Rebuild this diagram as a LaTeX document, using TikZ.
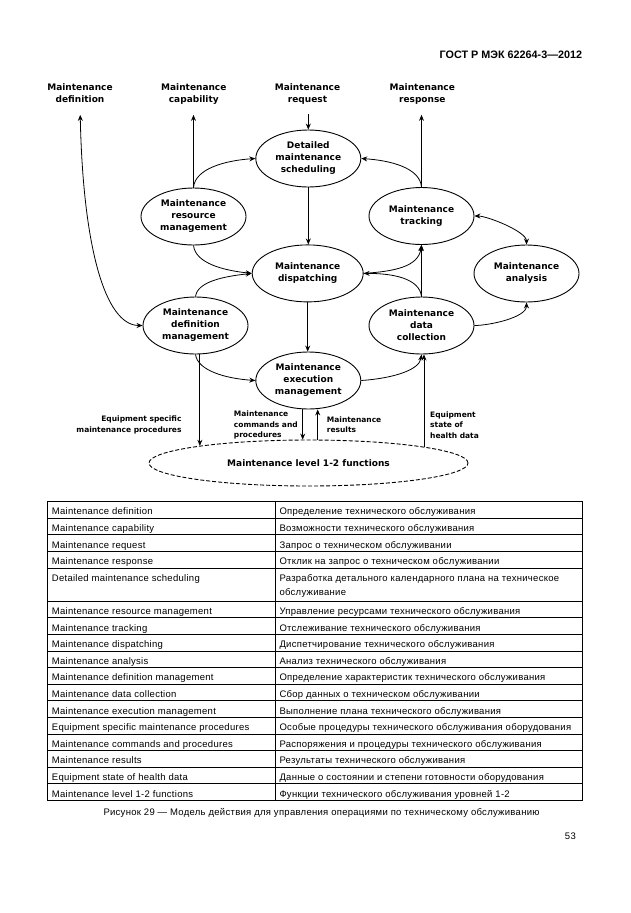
\documentclass[tikz,border=0pt]{standalone}
\usepackage{fontspec}
\usepackage{tikz}
\usetikzlibrary{shapes.geometric}
\usetikzlibrary{arrows.meta}
\newfontfamily\diagfont{DejaVu Sans}
\newfontfamily\gostfont[LetterSpace=3]{Liberation Sans}
\newfontfamily\headfont{Liberation Sans}
\tikzset{activity node/.style={ellipse, draw, line width=0.9pt,
    inner sep=0pt, minimum width=105pt, minimum height=57pt, align=center,
    font=\diagfont\bfseries\fontsize{9}{12}\selectfont}}
\tikzset{level node/.style={activity node, dash pattern=on 4pt off 2pt,
    minimum width=319pt, minimum height=46pt}}
\tikzset{end label/.style={inner sep=0pt, align=center, text depth=2.5pt,
    font=\diagfont\bfseries\fontsize{9}{12}\selectfont}}
\tikzset{data label/.style={inner sep=0pt,
    font=\diagfont\bfseries\fontsize{7.5}{10.7}\selectfont}}
\tikzset{flow edge/.style={draw, line width=0.8pt, ->}}
\tikzset{table rule/.style={draw, line width=0.7pt}}
\tikzset{cell text/.style={inner sep=0pt, anchor=base west, align=left,
    font=\gostfont\fontsize{9.5}{14.7}\selectfont}}

\begin{document}
\begin{tikzpicture}
  [x=1pt, y=-1pt, >={Stealth[length=6pt,width=5pt,inset=2pt]}]
  \fill [white] (0,0) rectangle (630,913);
  \useasboundingbox (0,0) rectangle (630,913);

  \node [anchor=east, inner sep=0pt, font=\headfont\bfseries\fontsize{10.8}{12}\selectfont]
        (header) at (582.3,55) {ГОСТ Р МЭК 62264-3—2012};

  % inputs and outputs of the model
  \node [end label] (ldef)  at ( 80.0, 94.0) {Maintenance\\definition};
  \node [end label] (lcap)  at (193.8, 94.0) {Maintenance\\capability};
  \node [end label] (lreq)  at (307.5, 94.0) {Maintenance\\request};
  \node [end label] (lresp) at (422.3, 94.0) {Maintenance\\response};

  % activities
  \node [activity node] (sched)    at (308.3,158.5) {Detailed\\maintenance\\scheduling};
  \node [activity node] (resource) at (193.5,216.5) {Maintenance\\resource\\management};
  \node [activity node] (tracking) at (421.5,216.0) {Maintenance\\tracking};
  \node [activity node, minimum width=111pt]
                        (dispatch) at (307.7,273.4) {Maintenance\\dispatching};
  \node [activity node] (analysis) at (526.5,273.5) {Maintenance\\analysis};
  \node [activity node] (defmgmt)  at (195.5,325.5) {Maintenance\\definition\\management};
  \node [activity node] (datacoll) at (421.5,325.5) {Maintenance\\data\\collection};
  \node [activity node] (exec)     at (308.3,380.5) {Maintenance\\execution\\management};
  \node [level node]    (level)    at (308.5,463.0) {Maintenance level 1-2 functions};

  \node [data label, anchor=east, align=right] (lesp)    at (181.7,424.7) {Equipment specific\\maintenance procedures};
  \node [data label, anchor=west, align=left]  (lcmd)    at (233.7,425.0) {Maintenance\\commands and\\procedures};
  \node [data label, anchor=west, align=left]  (lres)    at (326.7,424.7) {Maintenance\\results};
  \node [data label, anchor=west, align=left]  (lhealth) at (430.0,425.0) {Equipment\\state of\\health data};

  \coordinate (cmdtop) at ([xshift=-5.6pt]exec.south);
  \coordinate (resbot) at ([xshift=9.4pt]exec.south);

  % flows
  \draw [flow edge, <->, shorten <=10pt] (ldef.south) .. controls +(3,140) and +(-38,0) .. (defmgmt.west);
  \draw [flow edge, shorten >=10pt] (resource.north) -- (resource.north |- lcap.south);
  \draw [flow edge, shorten <=9pt]  (sched.north |- lreq.south) -- (sched.north);
  \draw [flow edge, shorten >=10pt] (tracking.north) -- (tracking.north |- lresp.south);

  \draw [flow edge] (resource.north) .. controls +(1.5,-19) and +(-30,2) .. (sched.west);
  \draw [flow edge] (tracking.north) .. controls +(-1.5,-19) and +(30,2) .. (sched.east);
  \draw [flow edge] (sched.south) -- (sched.south |- dispatch.north);
  \draw [flow edge] (resource.south) .. controls +(2,18) and +(-28,-3) .. (dispatch.west);
  \draw [flow edge] (defmgmt.north) .. controls +(2,-15) and +(-28,3) .. (dispatch.west);
  \draw [flow edge] (datacoll.north) .. controls +(-2,-18) and +(30,0) .. (dispatch.east);
  \draw [flow edge] (dispatch.east) .. controls +(30,-2) and +(-3,22) .. (tracking.south);
  \draw [flow edge] (datacoll.north) -- (tracking.south);
  \draw [flow edge, <->] (tracking.east) .. controls +(13,0) and +(0,-13) .. (analysis.north);
  \draw [flow edge] (datacoll.east) .. controls +(15,0) and +(0,15) .. (analysis.south);
  \draw [flow edge] (dispatch.south) -- (dispatch.south |- exec.north);
  \draw [flow edge] (defmgmt.south) .. controls +(2,16) and +(-30,-2) .. (exec.west);
  \draw [flow edge] (exec.east) .. controls +(30,-2) and +(-2,16) .. (datacoll.south);

  \draw [flow edge] (level.171.7 |- defmgmt.south) -- (level.171.7);
  \draw [flow edge] (cmdtop) -- (cmdtop |- level.north);
  \draw [flow edge] (resbot |- level.north) -- (resbot);
  \draw [flow edge] (level.8.3) -- (level.8.3 |- datacoll.south);

  % terms table
  \draw [table rule, line width=0.9pt] (47.3,501.5) rectangle (582.3,800.3);
  \draw [table rule] (275,501.5) -- (275,800.3);
  \foreach \y in {518.1,534.7,551.3,567.9,601.1,617.7,634.3,650.9,667.5,
                  684.1,700.7,717.3,733.9,750.5,767.1,783.7}
    \draw [table rule] (47.3,\y) -- (582.3,\y);

  \foreach \en/\ru [count=\i] in {
      Maintenance definition/Определение технического обслуживания,
      Maintenance capability/Возможности технического обслуживания,
      Maintenance request/Запрос о техническом обслуживании,
      Maintenance response/Отклик на запрос о техническом обслуживании}
  {
    \node [cell text] (en\i) at ( 51.7,{498.2+16.6*\i}) {\en};
    \node [cell text] (ru\i) at (279.3,{498.2+16.6*\i}) {\ru};
  }
  \node [cell text] (en5) at ( 51.7,581.2) {Detailed maintenance scheduling};
  \node [cell text] (ru5) at (279.3,595.9) {Разработка детального календарного плана на техническое\\обслуживание};
  \foreach \en/\ru [count=\i from 6] in {
      Maintenance resource management/Управление ресурсами технического обслуживания,
      Maintenance tracking/Отслеживание технического обслуживания,
      Maintenance dispatching/Диспетчирование технического обслуживания,
      Maintenance analysis/Анализ технического обслуживания,
      Maintenance definition management/Определение характеристик технического обслуживания,
      Maintenance data collection/Сбор данных о техническом обслуживании,
      Maintenance execution management/Выполнение плана технического обслуживания,
      Equipment specific maintenance procedures/Особые процедуры технического обслуживания оборудования,
      Maintenance commands and procedures/Распоряжения и процедуры технического обслуживания,
      Maintenance results/Результаты технического обслуживания,
      Equipment state of health data/Данные о состоянии и степени готовности оборудования,
      Maintenance level 1-2 functions/Функции технического обслуживания уровней 1-2}
  {
    \node [cell text] (en\i) at ( 51.7,{597.8+16.6*(\i-5)}) {\en};
    \node [cell text] (ru\i) at (279.3,{597.8+16.6*(\i-5)}) {\ru};
  }

  \node [anchor=west, inner sep=0pt, font=\gostfont\fontsize{9.5}{12}\selectfont] (caption) at (103.3,813.3)
        {Рисунок 29 — Модель действия для управления операциями по техническому обслуживанию};
  \node [anchor=east, inner sep=0pt, font=\gostfont\fontsize{9.5}{12}\selectfont] (pagenum) at (576,836) {53};
\end{tikzpicture}
\end{document}
